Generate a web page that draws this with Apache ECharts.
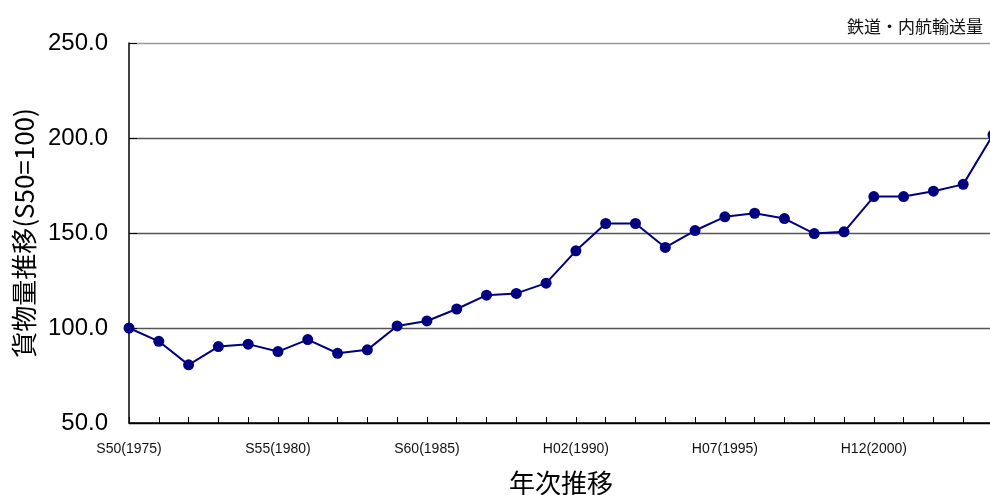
<!DOCTYPE html>
<html>
<head>
<meta charset="utf-8">
<script src="https://cdn.jsdelivr.net/npm/echarts@6/dist/echarts.min.js"></script>
<style>
html,body{margin:0;padding:0;background:#fff;overflow:hidden;}
#chart{width:1000px;height:495px;}
</style>
</head>
<body>
<div id="chart"></div>
<script>
const years = ['S50(1975)','S51(1976)','S52(1977)','S53(1978)','S54(1979)',
  'S55(1980)','S56(1981)','S57(1982)','S58(1983)','S59(1984)',
  'S60(1985)','S61(1986)','S62(1987)','S63(1988)','H01(1989)',
  'H02(1990)','H03(1991)','H04(1992)','H05(1993)','H06(1994)',
  'H07(1995)','H08(1996)','H09(1997)','H10(1998)','H11(1999)',
  'H12(2000)','H13(2001)','H14(2002)','H15(2003)','H16(2004)'];
const freightIndex = [100.0, 93.0, 80.6, 90.2, 91.5,
  87.6, 93.9, 86.7, 88.5, 101.1,
  103.7, 110.0, 117.3, 118.2, 123.6,
  140.6, 155.0, 155.0, 142.4, 151.3,
  158.5, 160.4, 157.6, 149.7, 150.6,
  169.2, 169.2, 172.0, 175.6, 201.7];
const titleText = '鉄道・内航輸送量';
const yName = '貨物量推移(S50=100)';
const xName = '年次推移';

const chart = echarts.init(document.getElementById('chart'));
chart.setOption({
  animation: false,
  backgroundColor: '#fff',
  title: {
    text: titleText,
    right: 12,
    top: 13,
    textStyle: {fontFamily: 'Noto Sans CJK JP', fontSize: 17, fontWeight: 'normal', color: '#111'}
  },
  grid: {left: 129, right: 7, top: 43, bottom: 72, containLabel: false, outerBoundsMode: 'none'},
  xAxis: {
    type: 'category',
    data: years,
    boundaryGap: false,
    name: xName,
    nameLocation: 'middle',
    nameGap: 47,
    nameTextStyle: {fontFamily: 'Noto Sans CJK JP', fontSize: 26, color: '#000'},
    axisLine: {lineStyle: {color: '#000', width: 1.5}},
    axisTick: {show: true, inside: true, length: 6, interval: 0, lineStyle: {color: '#000'}},
    axisLabel: {
      interval: 4,
      margin: 19,
      fontFamily: 'Liberation Sans',
      fontSize: 14,
      color: '#111'
    },
    splitLine: {show: false}
  },
  yAxis: {
    type: 'value',
    min: 50,
    max: 250,
    interval: 50,
    name: yName,
    nameLocation: 'middle',
    nameRotate: 90,
    nameGap: 92,
    nameTextStyle: {fontFamily: 'Noto Sans CJK JP', fontSize: 26, color: '#000'},
    axisLine: {show: true, lineStyle: {color: '#000', width: 1.5}},
    axisTick: {show: true, inside: true, length: 8, lineStyle: {color: '#000'}},
    axisLabel: {
      margin: 21,
      padding: [11, 0, 0, 0],
      fontFamily: 'Liberation Sans',
      fontSize: 24,
      color: '#000',
      formatter: v => v.toFixed(1)
    },
    splitLine: {show: true, lineStyle: {color: ['#000', '#555', '#555', '#555', '#999'], width: 1.3}}
  },
  series: [{
    type: 'line',
    data: freightIndex,
    symbol: 'circle',
    symbolSize: 11,
    clip: false,
    lineStyle: {color: '#000080', width: 2},
    itemStyle: {color: '#000080'}
  }]
});
</script>
</body>
</html>
